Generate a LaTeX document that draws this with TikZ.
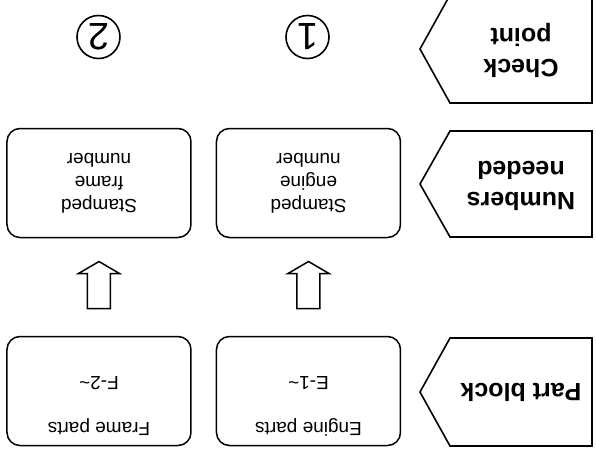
\documentclass[tikz,border=0pt]{standalone}
\usepackage{fontspec}
\setmainfont{Liberation Sans}
\usetikzlibrary{calc}
\tikzset{
  partbox/.style={draw, line width=1.5pt, rounded corners=13pt, minimum width=184pt, minimum height=109pt, inner sep=0pt},
  flag/.style={draw, line width=1.6pt, line join=miter},
  flagtext/.style={font=\fontsize{25}{31}\selectfont\bfseries, align=center},
  boxtext/.style={font=\fontsize{19}{23}\selectfont, align=center},
  bigarrow/.style={draw, line width=1.5pt, fill=white},
  checkcircle/.style={draw, circle, line width=1.6pt, minimum size=43pt, inner sep=0pt, font=\fontsize{38}{38}\selectfont}
}

\begin{document}
\begin{tikzpicture}[x=1pt, y=1pt, rotate=180, transform shape]
           \clip (0,0) rectangle (596,453);
           \fill[white] (0,0) rectangle (596,453);

           %Part block
           \draw[flag] (4,338) -- (146,338) -- (176,392) -- (146,446) -- (4,446) -- cycle;
           \node[flagtext] (pb) at (75,392) {Part block};

           \node[partbox] (epart) at (287.5,391) {};
           \node[boxtext] (etitle) at ($(epart.north)+(0,-19)$) {Engine parts};
           \node[boxtext] (ecode) at ($(epart.center)+(0,-8)$) {E-1\textasciitilde};

           \node[partbox] (fpart) at (497,391) {};
           \node[boxtext] (ftitle) at ($(fpart.north)+(0,-19)$) {Frame parts};
           \node[boxtext] (fcode) at ($(fpart.center)+(0,-8)$) {F-2\textasciitilde};

           %Numbers needed
           \draw[flag] (4,131) -- (146,131) -- (176,184) -- (146,237) -- (4,237) -- cycle;
           \node[flagtext] (nn) at (75,186) {Numbers\\needed};

           \node[partbox, boxtext] (enum) at (287.5,183) {Stamped\\engine\\number};
           \node[partbox, boxtext] (fnum) at (497,183) {Stamped\\frame\\number};

           % arrows
           \coordinate (ea) at ($(epart.south)!0.5!(enum.north)+(0,-2)$);
           \coordinate (fa) at ($(fpart.south)!0.5!(fnum.north)+(0,-2)$);
           \draw[bigarrow] (ea) ++(-11.5,23.5) -- ++(23,0) -- ++(0,-35) -- ++(9,0) -- ++(-20.5,-12) -- ++(-20.5,12) -- ++(9,0) -- cycle;
           \draw[bigarrow] (fa) ++(-11.5,23.5) -- ++(23,0) -- ++(0,-35) -- ++(9,0) -- ++(-20.5,-12) -- ++(-20.5,12) -- ++(9,0) -- cycle;

           %Check point
           \draw[flag] (4,-5) -- (146,-5) -- (176,49) -- (146,103) -- (4,103) -- cycle;
           \node[flagtext] (cp) at (75,50) {Check\\point};

           \node[checkcircle] (c1) at (288.5,37) {1};
           \node[checkcircle] (c2) at (497.5,37) {2};
        \end{tikzpicture}
\end{document}
